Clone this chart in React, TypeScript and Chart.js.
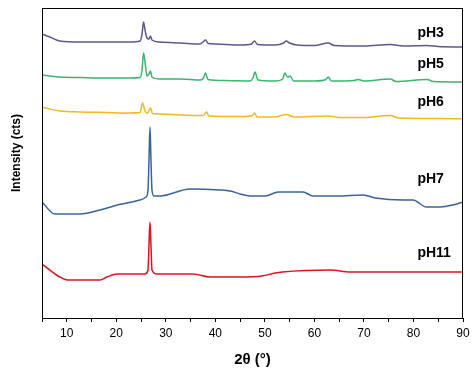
import React, { useEffect, useRef } from "react";
import { Chart, registerables } from "chart.js";

Chart.register(...registerables);

const FONT = "'Liberation Sans', Arial, sans-serif";

const xMin = 5;
const xMax = 90;
const xStep = 5;
const yMin = 0;
const yMax = 310;

const pH3: [number, number][] = [
  [5, 284], [6.6, 281], [8.6, 277], [12.7, 276], [16.7, 276], [22.8, 276], [24.8, 277],
  [25.2, 284], [25.5, 296], [25.8, 288], [26.2, 280], [26.6, 279], [26.9, 282], [27.2, 278],
  [28.8, 276], [33, 275], [36.9, 274], [37.5, 276], [38.0, 278], [38.6, 274.5], [40, 274],
  [45, 273], [47.3, 274], [47.9, 277], [48.5, 273.5], [52, 273],
  [53.8, 275], [54.3, 277], [55.0, 275], [56.5, 273], [60, 272.5],
  [62.8, 275], [64, 272.5], [70, 272], [75.3, 273.5], [78, 272], [82.7, 272.5], [85, 271.5], [90, 271],
];

const pH5: [number, number][] = [
  [5, 243], [6.6, 242], [8.6, 241], [12.7, 240.5], [18, 240], [22.8, 240], [24.8, 240.5],
  [25.2, 248], [25.5, 265], [25.8, 256], [26.2, 242], [26.6, 244], [26.9, 247], [27.2, 241],
  [28.8, 239], [33, 239], [37, 238], [37.6, 240], [38.0, 245], [38.5, 238.5], [42, 237.5],
  [47, 237], [47.6, 240], [48.0, 246], [48.6, 238], [52, 237], [53.6, 239], [54.0, 245],
  [54.6, 241], [55.1, 242], [55.8, 237], [60, 237], [62.3, 238.5], [62.8, 241], [63.4, 237],
  [68, 237.5], [68.8, 238.5], [70, 237], [75.3, 239], [76.5, 236.5], [82.8, 238.5], [84, 236.5], [90, 236],
];

const pH6: [number, number][] = [
  [5, 211], [6.6, 209], [8.6, 207], [12.7, 206], [18, 205.5], [22.8, 205], [24.8, 205.5],
  [25.3, 215], [25.8, 207], [26.3, 204.5], [26.9, 210], [27.3, 204.5], [28.8, 204], [33, 203],
  [37.6, 202.5], [38.2, 206], [38.7, 202], [45, 201.5], [47.5, 202.5], [47.9, 205], [48.4, 201],
  [52, 201], [54.3, 203.5], [56, 201], [62.8, 202], [65, 200.5], [70, 200.5], [75.3, 202.5],
  [77, 200], [85, 199.5], [90, 199.3],
];

const pH7: [number, number][] = [
  [5, 116], [7.6, 104], [12.7, 104], [16.7, 108], [20.2, 113], [24.8, 118], [26.0, 121],
  [26.4, 128], [26.6, 158], [26.8, 191], [27.0, 158], [27.2, 128], [27.6, 122], [28.8, 122],
  [34.9, 129], [41.0, 128], [43.0, 127], [45.0, 124], [47.0, 122], [50.1, 122], [52.7, 126],
  [57.7, 126], [59.7, 122], [64.6, 122], [69.8, 123], [72.3, 120], [77.9, 118], [79.9, 118],
  [82.6, 111], [85.4, 111], [88.0, 113], [90, 116],
];

const pH11: [number, number][] = [
  [5, 54], [8.6, 41], [10.1, 38], [16.7, 38], [18.1, 41], [20.2, 44], [25.8, 44], [26.4, 48],
  [26.6, 73], [26.8, 96], [27.0, 73], [27.2, 48], [28.2, 44], [35.5, 44], [38.9, 41], [45.0, 41],
  [49.4, 42], [52.1, 45], [53.5, 46], [63.2, 48], [67.2, 46], [72.3, 46], [90, 46],
];

const seriesNames = ["pH3", "pH5", "pH6", "pH7", "pH11"];
const seriesData = [pH3, pH5, pH6, pH7, pH11];
const seriesColors = ["#5a588c", "#3cb46e", "#f0b91e", "#37649b", "#dc141e"];
const labelX = [80.8, 80.8, 80.8, 80.8, 80.8];
const labelY = [284.5, 253.5, 216, 139, 65];

const xTitle = "2θ (°)";
const yTitle = "Intensity (cts)";

const decorPlugin = {
  id: "decor",
  afterDraw(chart: any) {
    const { ctx, chartArea, scales } = chart;
    const { left, right, top, bottom } = chartArea;
    ctx.save();
    ctx.strokeStyle = "#000";
    ctx.lineWidth = 1;
    ctx.strokeRect(left + 0.5, top + 0.5, right - left - 1, bottom - top);
    ctx.fillStyle = "#000";
    ctx.font = `bold 14px ${FONT}`;
    ctx.textAlign = "left";
    ctx.textBaseline = "middle";
    seriesNames.forEach((name, i) => {
      ctx.fillText(name, scales.x.getPixelForValue(labelX[i]), scales.y.getPixelForValue(labelY[i]));
    });
    ctx.translate(17, (top + bottom) / 2 - 10);
    ctx.rotate(-Math.PI / 2);
    ctx.textAlign = "center";
    ctx.font = `bold 12px ${FONT}`;
    ctx.fillText(yTitle, 0, 0);
    ctx.restore();
  },
};

export default function App() {
  const ref = useRef<HTMLCanvasElement | null>(null);
  useEffect(() => {
    if (!ref.current) return;
    const chart = new Chart(ref.current, {
      type: "line",
      data: {
        datasets: seriesData.map((pts, i) => ({
          label: seriesNames[i],
          data: pts.map(([x, y]) => ({ x, y })),
          borderColor: seriesColors[i],
          backgroundColor: seriesColors[i],
          borderWidth: 1.5,
          pointRadius: 0,
          cubicInterpolationMode: "monotone",
          fill: false,
        })),
      },
      options: {
        responsive: false,
        animation: false,
        layout: { padding: { left: 0, top: 8, right: 12, bottom: 0 } },
        plugins: { legend: { display: false }, tooltip: { enabled: false } },
        scales: {
          x: {
            type: "linear",
            min: xMin,
            max: xMax,
            ticks: {
              stepSize: xStep,
              autoSkip: false,
              maxRotation: 0,
              color: "#000",
              padding: 4,
              font: { family: FONT, size: 12 },
              callback: (v: any) => (Number(v) % 10 === 0 ? String(v) : ""),
            },
            grid: { drawOnChartArea: false, drawTicks: true, tickLength: 4, color: "#000", tickColor: "#000" },
            border: { display: false },
            title: {
              display: true,
              text: xTitle,
              color: "#000",
              font: { family: FONT, size: 15, weight: "bold" },
              padding: { top: 0, bottom: 4 },
            },
            afterFit: (s: any) => {
              s.height = 55;
            },
          },
          y: {
            type: "linear",
            min: yMin,
            max: yMax,
            ticks: { display: false },
            grid: { display: false },
            border: { display: false },
            afterFit: (s: any) => {
              s.width = 42;
            },
          },
        },
      },
      plugins: [decorPlugin],
    } as any);
    return () => chart.destroy();
  }, []);
  return (
    <div style={{ position: "absolute", left: 0, top: 0, width: 475, height: 373, background: "#fff" }}>
      <canvas ref={ref} width={475} height={373} />
    </div>
  );
}
